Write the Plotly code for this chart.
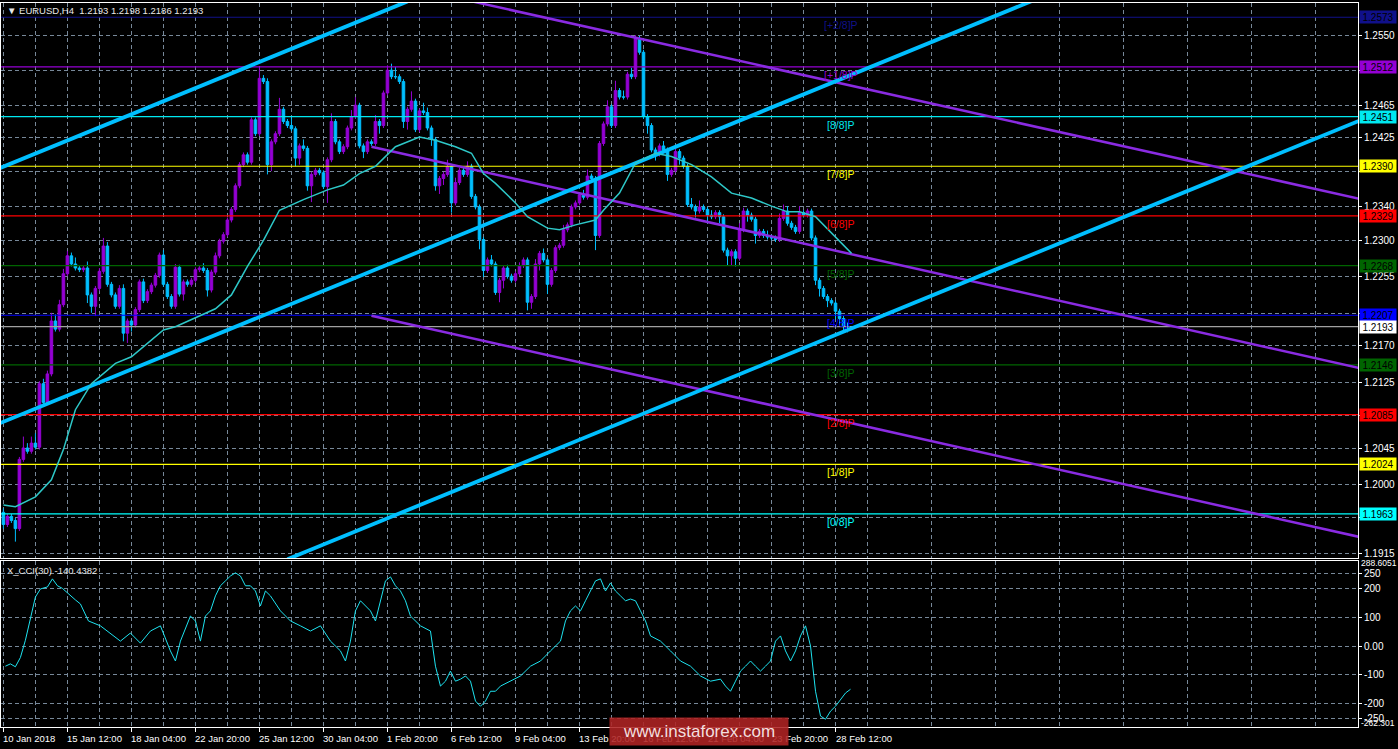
import plotly.graph_objects as go
from plotly.subplots import make_subplots

# ---------------- data ----------------
title_text = "▼ EURUSD,H4  1.2193 1.2198 1.2186 1.2193"
cci_title = "X_CCI(30) -140.4382"

first_open = 1.1965
closes = [
    1.1950, 1.1960, 1.1955, 1.1945, 1.2030, 1.2044, 1.2040, 1.2050, 1.2045, 1.2123,
    1.2100, 1.2135, 1.2200, 1.2190, 1.2220, 1.2258, 1.2280, 1.2270, 1.2265, 1.2263,
    1.2265, 1.2232, 1.2218, 1.2240, 1.2261, 1.2292, 1.2245, 1.2232, 1.2218, 1.2240,
    1.2185, 1.2200, 1.2195, 1.2214, 1.2248, 1.2225, 1.2236, 1.2244, 1.2256, 1.2281,
    1.2245, 1.2230, 1.2218, 1.2266, 1.2233, 1.2248, 1.2245, 1.2250, 1.2263, 1.2265,
    1.2262, 1.2238, 1.2260, 1.2280, 1.2298, 1.2306, 1.2324, 1.2337, 1.2366, 1.2392,
    1.2404, 1.2395, 1.2447, 1.2430, 1.2498, 1.2494, 1.2392, 1.2420, 1.2430, 1.2460,
    1.2445, 1.2440, 1.2436, 1.2400, 1.2415, 1.2412, 1.2366, 1.2380, 1.2385, 1.2382,
    1.2365, 1.2398, 1.2445, 1.2420, 1.2408, 1.2414, 1.2437, 1.2451, 1.2465, 1.2415,
    1.2408, 1.2420, 1.2418, 1.2445, 1.2440, 1.2480, 1.2508, 1.2500, 1.2500, 1.2494,
    1.2445, 1.2460, 1.2470, 1.2435, 1.2458, 1.2456, 1.2437, 1.2423, 1.2366, 1.2375,
    1.2380, 1.2390, 1.2345, 1.2370, 1.2385, 1.2380, 1.2390, 1.2353, 1.2340, 1.2300,
    1.2262, 1.2275, 1.2270, 1.2235, 1.2250, 1.2265, 1.2255, 1.2250, 1.2258, 1.2268,
    1.2275, 1.2223, 1.2230, 1.2270, 1.2283, 1.2275, 1.2245, 1.2262, 1.2290, 1.2293,
    1.2312, 1.2318, 1.2340, 1.2345, 1.2355, 1.2352, 1.2378, 1.2375, 1.2305, 1.2418,
    1.2442, 1.2463, 1.2440, 1.2483, 1.2475, 1.2475, 1.2503, 1.2500, 1.2547, 1.2530,
    1.2451, 1.2440, 1.2410, 1.2405, 1.2415, 1.2410, 1.2380, 1.2385, 1.2408, 1.2400,
    1.2390, 1.2343, 1.2340, 1.2335, 1.2340, 1.2337, 1.2330, 1.2328, 1.2333, 1.2328,
    1.2287, 1.2280, 1.2285, 1.2277, 1.2312, 1.2335, 1.2330, 1.2325, 1.2305, 1.2310,
    1.2305, 1.2303, 1.2302, 1.2300, 1.2326, 1.2335, 1.2320, 1.2315, 1.2310, 1.2333,
    1.2330, 1.2335, 1.2302, 1.2250, 1.2240, 1.2230, 1.2225, 1.2222, 1.2212, 1.2203,
    1.2193, 1.2193,
]
upper_wick_pips = [
    5, 3, 3, 3, 3, 14, 6, 8, 12, 3,
    6, 4, 10, 8, 6, 6, 6, 4, 8, 3,
    3, 8, 3, 3, 4, 10, 5, 3, 3, 4,
    5, 3, 3, 3, 3, 4, 3, 3, 3, 3,
    6, 3, 3, 4, 3, 3, 3, 3, 3, 3,
    6, 3, 3, 4, 3, 3, 3, 3, 3, 3,
    3, 3, 3, 3, 14, 4, 4, 3, 3, 14,
    3, 3, 10, 3, 3, 8, 3, 3, 3, 3,
    3, 3, 10, 3, 3, 3, 3, 8, 10, 3,
    3, 3, 3, 8, 3, 3, 6, 8, 12, 3,
    3, 3, 12, 3, 3, 10, 6, 3, 3, 3,
    3, 8, 3, 6, 3, 3, 6, 3, 3, 3,
    3, 3, 6, 3, 3, 3, 4, 3, 3, 4,
    3, 3, 3, 6, 3, 6, 3, 3, 3, 3,
    6, 3, 3, 3, 3, 6, 8, 3, 3, 3,
    3, 8, 3, 12, 3, 8, 3, 8, 4, 3,
    3, 3, 3, 3, 3, 6, 3, 3, 8, 3,
    3, 3, 8, 3, 8, 3, 3, 6, 3, 3,
    3, 3, 3, 3, 8, 4, 3, 3, 3, 3,
    3, 6, 3, 3, 6, 8, 6, 3, 3, 8,
    3, 3, 3, 3, 3, 3, 3, 3, 3, 3,
    3, 5,
]
lower_wick_pips = [
    5, 3, 3, 16, 3, 3, 3, 3, 3, 3,
    3, 3, 3, 3, 3, 3, 3, 3, 3, 3,
    3, 10, 8, 12, 3, 3, 3, 3, 3, 3,
    10, 12, 8, 3, 3, 3, 3, 3, 3, 3,
    3, 3, 3, 3, 3, 8, 3, 3, 3, 3,
    3, 8, 3, 3, 3, 3, 3, 3, 3, 3,
    3, 3, 3, 3, 3, 3, 12, 8, 3, 3,
    3, 3, 3, 10, 8, 3, 6, 20, 3, 3,
    3, 20, 3, 3, 3, 3, 3, 3, 3, 3,
    8, 3, 3, 3, 10, 3, 3, 3, 3, 3,
    8, 10, 3, 3, 3, 3, 3, 8, 6, 10,
    8, 3, 12, 3, 3, 3, 3, 3, 3, 12,
    8, 3, 3, 3, 12, 10, 3, 3, 3, 3,
    3, 10, 8, 3, 8, 3, 12, 3, 3, 3,
    3, 3, 3, 3, 3, 3, 3, 3, 18, 3,
    3, 3, 3, 3, 3, 3, 3, 3, 3, 3,
    3, 10, 3, 8, 3, 3, 8, 3, 3, 8,
    3, 3, 3, 8, 3, 3, 10, 3, 3, 8,
    3, 12, 12, 10, 3, 3, 8, 3, 10, 3,
    3, 3, 3, 3, 3, 3, 3, 3, 3, 3,
    3, 3, 3, 6, 10, 3, 8, 3, 10, 8,
    6, 7,
]

# moving average (read at sampled bars)
ma_bar = [0, 3, 8, 12, 15, 18, 22, 28, 32, 36, 40, 43, 50, 53, 57, 61, 65, 69, 75, 78,
          81, 85, 89, 93, 98, 104, 108, 113, 117, 120, 123, 128, 131, 136, 139, 143, 148,
          150, 154, 158, 163, 167, 172, 177, 182, 187, 192, 196, 199, 203, 208, 212]
ma_val = [1.1974, 1.1972, 1.1984, 1.2005, 1.2042, 1.2091, 1.2123, 1.2148, 1.2156, 1.2172,
          1.2189, 1.2193, 1.2209, 1.2215, 1.2232, 1.2267, 1.2299, 1.2336, 1.2349, 1.2355,
          1.2361, 1.2367, 1.2381, 1.2390, 1.2414, 1.2426, 1.2422, 1.2414, 1.2406, 1.2381,
          1.2369, 1.2345, 1.2328, 1.2314, 1.2312, 1.2318, 1.2324, 1.2336, 1.2357, 1.2394,
          1.2406, 1.2402, 1.2392, 1.2377, 1.2357, 1.2351, 1.2341, 1.2334, 1.2334, 1.2328,
          1.2303, 1.2283]

# CCI(30)
cci_bar = [0.5, 1.75, 3, 4.25, 5.5, 6.75, 8, 9.25, 11, 12.25, 13.5, 14.75, 16, 18, 19.25,
           21.25, 24.25, 26.75, 29.25, 31.75, 34.25, 36.75, 39.25, 41.75, 43, 44.25, 46.75,
           48, 49.25, 50.5, 51.75, 53, 54.25, 55.5, 56.75, 58, 59.25, 60.5, 61.75, 63, 64.25,
           65.5, 66.75, 69.25, 71.75, 74.25, 76.75, 79.25, 81.75, 84.25, 85.5, 86.75, 88,
           89.25, 91.75, 93, 94.25, 95.5, 96.75, 98, 99.25, 100.5, 101.75, 104.25, 106.75,
           108, 109.25, 110.5, 111.75, 113, 114.25, 115.5, 116.75, 118, 119.25, 120.5,
           121.75, 123, 124.25, 126.75, 129.25, 131.75, 134.25, 136.75, 139.25, 140.5,
           141.75, 143, 144.25, 145.5, 146.75, 148, 149.25, 150.5, 151.75, 153, 154.25,
           155.5, 156.75, 158, 159.25, 160.5, 161.75, 164.25, 166.75, 169.25, 171.75,
           174.25, 176.75, 179.25, 180.5, 181.75, 183, 184.25, 185.5, 186.75, 188, 189.25,
           190.5, 191.75, 193, 194.25, 195.5, 196.75, 198, 199.25, 200.5, 201.75, 203,
           204.25, 205.5, 206.75, 208, 209.25, 210.5, 211.75]
cci_val = [-70, -62, -72, -40, 20, 97, 170, 198, 205, 233, 209, 200, 184, 160, 146,
           87, 70, 45, 17, 45, 10, 52, 70, -17, -52, 17, 104, 87, 17, 104, 122, 174, 209,
           226, 243, 254, 243, 209, 209, 191, 139, 191, 174, 122, 87, 70, 52, 70, 17, -17,
           -52, 17, 122, 157, 122, 87, 157, 226, 240, 209, 191, 157, 104, 70, 52, -70,
           -139, -122, -87, -122, -115, -104, -122, -191, -209, -191, -157, -157, -139,
           -122, -104, -70, -52, -17, 17, 87, 122, 139, 122, 157, 191, 226, 233, 191, 219,
           191, 174, 157, 163, 157, 122, 87, 35, 17, -17, -52, -70, -104, -122, -115, -139,
           -157, -122, -87, -70, -52, -70, -87, -70, -52, 17, 35, -17, -52, -17, 35, 70, 0,
           -157, -243, -254, -226, -209, -184, -163, -150]

# channel lines: (bar, price) end points
blue_channels = [
    ([-1, 101], [1.23875, 1.25925]),
    ([-1, 257], [1.20742, 1.25928]),
    ([71, 339], [1.19074, 1.24461]),
]
purple_channels = [
    ([92, 339], [1.26200, 1.23500]),
    ([92, 339], [1.24140, 1.21422]),
    ([92, 339], [1.22065, 1.19347]),
]

# Murrey math levels
level_names = ["[+2/8]P", "[+1/8]P", "[8/8]P", "[7/8]P", "[6/8]P", "[5/8]P",
               "[4/8]P", "[3/8]P", "[2/8]P", "[1/8]P", "[0/8]P"]
level_values = [1.2573, 1.2512, 1.2451, 1.2390, 1.2329, 1.2268,
                1.2207, 1.2146, 1.2085, 1.2024, 1.1963]
level_colors = ["#10108a", "#9400D3", "#00E8F0", "#FFFF00", "#FF0000", "#006400",
                "#0000FF", "#006400", "#FF0000", "#FFFF00", "#00FFFF"]
current_price = 1.2193

price_tick_vals = [1.2550, 1.25082, 1.24649, 1.24256, 1.23833, 1.23412, 1.22994,
                   1.22552, 1.22094, 1.21693, 1.21242, 1.2084, 1.20436, 1.19997,
                   1.19589, 1.19147]
price_tick_text = ["1.2550", "", "1.2465", "1.2425", "", "1.2340", "1.2300",
                   "1.2255", "", "1.2170", "1.2125", "", "1.2045", "1.2000",
                   "", "1.1915"]
cci_tick_vals = [250, 200, 100, 0, -100, -200, -250]
cci_tick_text = ["250", "200", "100", "0.00", "-100", "-200", "-250"]
cci_max_label = "288.6051"
cci_min_label = "-262.301"

time_label_bars = [0, 16, 32, 48, 64, 80, 96, 112, 128, 144, 160, 176, 192, 208]
time_labels = ["10 Jan 2018", "15 Jan 12:00", "18 Jan 04:00", "22 Jan 20:00",
               "25 Jan 12:00", "30 Jan 04:00", "1 Feb 20:00", "6 Feb 12:00",
               "9 Feb 04:00", "13 Feb 20:00", "16 Feb 12:00", "21 Feb 04:00",
               "23 Feb 20:00", "28 Feb 12:00"]

# ---------------- build ----------------
bars = list(range(len(closes)))
opens = [first_open] + closes[:-1]
highs = [max(o, c) + u * 0.0001 for o, c, u in zip(opens, closes, upper_wick_pips)]
lows = [min(o, c) - d * 0.0001 for o, c, d in zip(opens, closes, lower_wick_pips)]

W, H = 1398, 749
ML, MR, MT, MB = 1, 40, 3, 22
PH = H - MT - MB
PW = W - ML - MR
main_dom = [(727 - 558) / PH, 1.0]
cci_dom = [0.0, (727 - 561) / PH]

FONT = "Liberation Sans, Arial, sans-serif"
FS = 9.5
GRID = "#778899"
GDASH = "4px,3px"

fig = make_subplots(rows=2, cols=1, shared_xaxes=True)

# murrey level lines
for val, col in zip(level_values, level_colors):
    fig.add_trace(go.Scatter(x=[-1, 340], y=[val, val], mode="lines",
                             line=dict(color=col, width=1.2), hoverinfo="skip"), row=1, col=1)
fig.add_trace(go.Scatter(x=[-1, 340], y=[current_price, current_price], mode="lines",
                         line=dict(color="#a0a0a0", width=1.2), hoverinfo="skip"), row=1, col=1)

# channels
for xs, ys in purple_channels:
    fig.add_trace(go.Scatter(x=xs, y=ys, mode="lines",
                             line=dict(color="#8A2BE2", width=2.5), hoverinfo="skip"), row=1, col=1)
for xs, ys in blue_channels:
    fig.add_trace(go.Scatter(x=xs, y=ys, mode="lines",
                             line=dict(color="#00BFFF", width=3.8), hoverinfo="skip"), row=1, col=1)

# candles
fig.add_trace(go.Candlestick(
    x=bars, open=opens, high=highs, low=lows, close=closes,
    increasing=dict(line=dict(color="#9400D3", width=1), fillcolor="#9400D3"),
    decreasing=dict(line=dict(color="#00BFFF", width=1), fillcolor="#00BFFF"),
    whiskerwidth=0, hoverinfo="skip"), row=1, col=1)

# MA
fig.add_trace(go.Scatter(x=ma_bar, y=ma_val, mode="lines",
                         line=dict(color="#2EC8C8", width=1.5), hoverinfo="skip"), row=1, col=1)

# CCI
fig.add_trace(go.Scatter(x=cci_bar, y=cci_val, mode="lines",
                         line=dict(color="#1EE3F0", width=1), hoverinfo="skip"), row=2, col=1)

xr = [-0.6, 338.6]
axis_common = dict(showline=True, mirror=True, linecolor="white", linewidth=1,
                   zeroline=False)
fig.update_xaxes(range=xr, **axis_common, tickmode="array", tickvals=time_label_bars,
                 showticklabels=False, showgrid=True, griddash=GDASH, gridcolor=GRID,
                 gridwidth=1, rangeslider=dict(visible=False),
                 minor=dict(tickmode="linear", tick0=8, dtick=16, showgrid=True,
                            griddash=GDASH, gridcolor=GRID, ticks=""))
fig.update_xaxes(ticks="outside", ticklen=4, tickcolor="white", row=2, col=1)
fig.update_xaxes(ticks="", row=1, col=1)

fig.update_yaxes(range=[1.19089, 1.25905], domain=main_dom, side="right",
                 tickmode="array", tickvals=price_tick_vals, ticktext=price_tick_text,
                 ticks="outside", ticklen=3, tickcolor="white",
                 tickfont=dict(color="white", size=FS + 0.5, family=FONT),
                 showgrid=True, griddash=GDASH, gridcolor=GRID, **axis_common,
                 row=1, col=1)
fig.update_yaxes(range=[-281, 295], domain=cci_dom, side="right",
                 tickmode="array", tickvals=cci_tick_vals, ticktext=cci_tick_text,
                 ticks="outside", ticklen=3, tickcolor="white",
                 tickfont=dict(color="white", size=FS + 0.5, family=FONT),
                 showgrid=True, griddash=GDASH, gridcolor=GRID, **axis_common,
                 row=2, col=1)

ann = []
# murrey labels inside chart
for name, val, col in zip(level_names, level_values, level_colors):
    ann.append(dict(xref="x", yref="y", x=209.3, y=val, text=name, showarrow=False,
                    xanchor="center", yanchor="middle", yshift=-8,
                    font=dict(color=col, size=10.5, family=FONT)))
# right-side price boxes
for val, col in zip(level_values, level_colors):
    ann.append(dict(xref="paper", yref="y", x=1.0, xshift=1, y=val, text=f"{val:.4f}",
                    showarrow=False, xanchor="left", yanchor="middle",
                    bgcolor=col, width=36, height=12, borderpad=0,
                    font=dict(color="black", size=FS + 0.5, family=FONT)))
ann.append(dict(xref="paper", yref="y", x=1.0, xshift=1, y=current_price,
                text=f"{current_price:.4f}", showarrow=False, xanchor="left",
                yanchor="middle", bgcolor="white", width=36, height=12, borderpad=0,
                font=dict(color="black", size=FS + 0.5, family=FONT)))
# CCI range labels
ann.append(dict(xref="paper", yref="paper", x=1.0, xshift=1, y=(727 - 563) / PH,
                text=cci_max_label, showarrow=False, xanchor="left", yanchor="middle",
                font=dict(color="white", size=8.5, family=FONT)))
ann.append(dict(xref="paper", yref="paper", x=1.0, xshift=1, y=(727 - 723) / PH,
                text=cci_min_label, showarrow=False, xanchor="left", yanchor="middle",
                font=dict(color="white", size=8.5, family=FONT)))
# time labels
for b, t in zip(time_label_bars, time_labels):
    ann.append(dict(xref="x2", yref="paper", x=b, xshift=-2, y=(727 - 738) / PH,
                    text=t, showarrow=False, xanchor="left", yanchor="middle",
                    font=dict(color="white", size=FS, family=FONT)))
# titles
ann.append(dict(xref="paper", yref="paper", x=(5 - ML) / PW, y=(727 - 10) / PH,
                text=title_text, showarrow=False, xanchor="left", yanchor="middle",
                font=dict(color="#e8e8e8", size=FS, family=FONT)))
ann.append(dict(xref="paper", yref="paper", x=(5 - ML) / PW, y=(727 - 570) / PH,
                text=cci_title, showarrow=False, xanchor="left", yanchor="middle",
                font=dict(color="#e8e8e8", size=FS, family=FONT)))
# watermark
ann.append(dict(xref="paper", yref="paper", x=(699 - ML) / PW,
                y=(727 - 731.5) / PH, text="www.instaforex.com", showarrow=False,
                xanchor="center", yanchor="middle", bgcolor="rgba(175,35,35,0.88)",
                width=178, height=27, borderpad=0,
                font=dict(color="#f3dede", size=17, family="Liberation Sans, Arial")))

fig.update_layout(width=W, height=H, margin=dict(l=ML, r=MR, t=MT, b=MB),
                  paper_bgcolor="black", plot_bgcolor="black", showlegend=False,
                  annotations=ann, hovermode=False, boxgap=0.2, boxgroupgap=0.2)

fig.write_html("out.html", config={"displayModeBar": False},
               post_script="document.body.style.margin='0';"
                           "document.body.style.overflow='hidden';"
                           "document.body.style.background='black';")
